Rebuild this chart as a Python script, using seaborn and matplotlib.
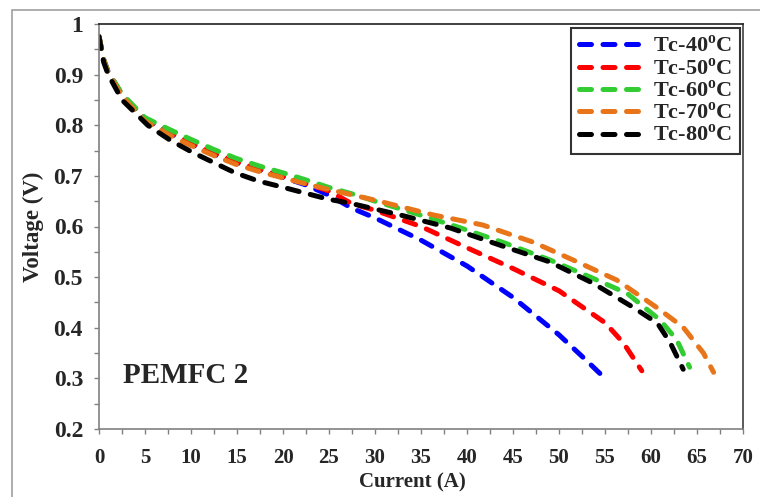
import matplotlib
matplotlib.use("Agg")
import matplotlib.pyplot as plt
import matplotlib.patches as mpatches
from matplotlib.ticker import MultipleLocator
import seaborn as sns
import pandas as pd

sns.set_theme(style="white")
plt.rcParams['font.family'] = ['Liberation Serif', 'DejaVu Serif']
plt.rcParams['font.weight'] = 'bold'
plt.rcParams['mathtext.fontset'] = 'custom'
plt.rcParams['mathtext.rm'] = 'Liberation Serif:bold'
plt.rcParams['mathtext.bf'] = 'Liberation Serif:bold'

labels = [r'Tc-40$^{\mathbf{o}}$C', r'Tc-50$^{\mathbf{o}}$C', r'Tc-60$^{\mathbf{o}}$C',
          r'Tc-70$^{\mathbf{o}}$C', r'Tc-80$^{\mathbf{o}}$C']
colors = ['#0000FF', '#FF0000', '#33CC33', '#E8751A', '#000000']

i40 = [0, 0.5, 1, 2.5, 5, 7.5, 10, 12.5, 15, 17.5, 20, 22.5, 25, 27.5, 30, 35, 40, 45, 50, 53, 55]
v40 = [0.975, 0.93, 0.905, 0.86, 0.812, 0.785, 0.762, 0.742, 0.725, 0.711, 0.697, 0.682, 0.662, 0.636, 0.617, 0.573, 0.522, 0.46, 0.386, 0.335, 0.30]

i50 = [0, 0.5, 1, 2.5, 5, 7.5, 10, 12.5, 15, 17.5, 20, 22.5, 25, 27.5, 30, 35, 40, 45, 50, 55, 57, 59]
v50 = [0.975, 0.93, 0.905, 0.86, 0.813, 0.788, 0.765, 0.745, 0.728, 0.713, 0.699, 0.685, 0.67, 0.645, 0.632, 0.60, 0.558, 0.517, 0.473, 0.41, 0.37, 0.315]

i60 = [0, 0.5, 1, 2.5, 5, 7.5, 10, 12.5, 15, 17.5, 20, 22.5, 25, 28, 30, 34, 39, 44, 49, 53.4, 57.4, 61, 62.8, 64.2]
v60 = [0.975, 0.93, 0.905, 0.862, 0.815, 0.793, 0.772, 0.752, 0.734, 0.719, 0.706, 0.692, 0.677, 0.662, 0.65, 0.628, 0.599, 0.568, 0.534, 0.50, 0.468, 0.415, 0.376, 0.322]

i70 = [0, 0.5, 1, 2.5, 5, 7.5, 10, 12.5, 15, 17.5, 20, 22.5, 25, 30, 36.3, 41.7, 47.2, 52, 56.3, 60.7, 63.5, 65.7, 66.8]
v70 = [0.975, 0.928, 0.903, 0.857, 0.808, 0.782, 0.760, 0.740, 0.722, 0.708, 0.696, 0.684, 0.673, 0.652, 0.623, 0.603, 0.569, 0.530, 0.494, 0.439, 0.401, 0.350, 0.312]

i80 = [0, 0.5, 1, 2.5, 5.3, 7.7, 10.1, 12.5, 14.8, 17.3, 19.9, 22.4, 24.9, 27.3, 32.7, 38.2, 43.6, 49, 53.7, 58, 60.7, 62.1, 63.5]
v80 = [0.975, 0.925, 0.9, 0.85, 0.80, 0.771, 0.747, 0.726, 0.706, 0.690, 0.678, 0.666, 0.654, 0.646, 0.623, 0.597, 0.563, 0.530, 0.488, 0.441, 0.409, 0.370, 0.318]

series = [(i40, v40), (i50, v50), (i60, v60), (i70, v70), (i80, v80)]

fig = plt.figure(figsize=(7.6, 4.97), dpi=100)
ax = fig.add_axes([99/760, 1-429/497, (743-99)/760, (429-24)/497])

# outer gray border
fig.patches.append(mpatches.Rectangle((12/760, -0.1), 1.2, 1.1 - 10/497, transform=fig.transFigure,
                                      fill=False, edgecolor='#A0A0A0', linewidth=1.2))

for (xs, ys), lab, col in zip(series, labels, colors):
    df = pd.DataFrame({'Current': xs, 'Voltage': ys})
    sns.lineplot(data=df, x='Current', y='Voltage', ax=ax, color=col, label=lab,
                 linewidth=3.6, sort=False)

for ln in ax.get_lines():
    ln.set_dashes((2.4, 2.3))
    ln.set_dash_capstyle('round')

ax.set_xlim(0, 70)
ax.set_ylim(0.2, 1.0)
ax.xaxis.set_major_locator(MultipleLocator(5))
ax.xaxis.set_minor_locator(MultipleLocator(2.5))
ax.yaxis.set_major_locator(MultipleLocator(0.1))
ax.yaxis.set_minor_locator(MultipleLocator(0.05))
ax.set_yticks([0.2, 0.3, 0.4, 0.5, 0.6, 0.7, 0.8, 0.9, 1.0])
ax.set_yticklabels(['0.2', '0.3', '0.4', '0.5', '0.6', '0.7', '0.8', '0.9', '1'])
ax.tick_params(axis='both', which='both', direction='out', color='#808080',
               length=3.5, width=1, left=True, bottom=True)
ax.tick_params(axis='y', which='major', labelsize=17, pad=8)
ax.tick_params(axis='x', which='major', labelsize=15, pad=10.5)
for lab in ax.get_xticklabels() + ax.get_yticklabels():
    lab.set_fontweight('bold')

for side in ['left', 'bottom']:
    ax.spines[side].set_color('#808080')
    ax.spines[side].set_linewidth(1.2)
ax.spines['top'].set_color('#202020')
ax.spines['right'].set_color('#404040')
ax.spines['top'].set_linewidth(1.2)
ax.spines['right'].set_linewidth(1.2)

ax.set_xlabel('Current (A)', fontsize=15, fontweight='bold')
ax.set_ylabel('Voltage (V)', fontsize=16.5, fontweight='bold')
ax.xaxis.set_label_coords(0.487, -0.108)
ax.yaxis.set_label_coords(-0.086, 0.5)

ax.text(2.6, 0.305, 'PEMFC 2', fontsize=21, fontweight='bold', va='center', ha='left')

leg = ax.legend(loc='upper right', bbox_to_anchor=(0.995, 0.99), borderaxespad=0,
                fontsize=16, frameon=True, fancybox=False, handlelength=3.05,
                handletextpad=0.27, labelspacing=0.04, borderpad=0.35)
leg.get_frame().set_edgecolor('black')
leg.get_frame().set_linewidth(1.5)
for t in leg.get_texts():
    t.set_fontweight('bold')

fig.savefig('out.png', dpi=100)
